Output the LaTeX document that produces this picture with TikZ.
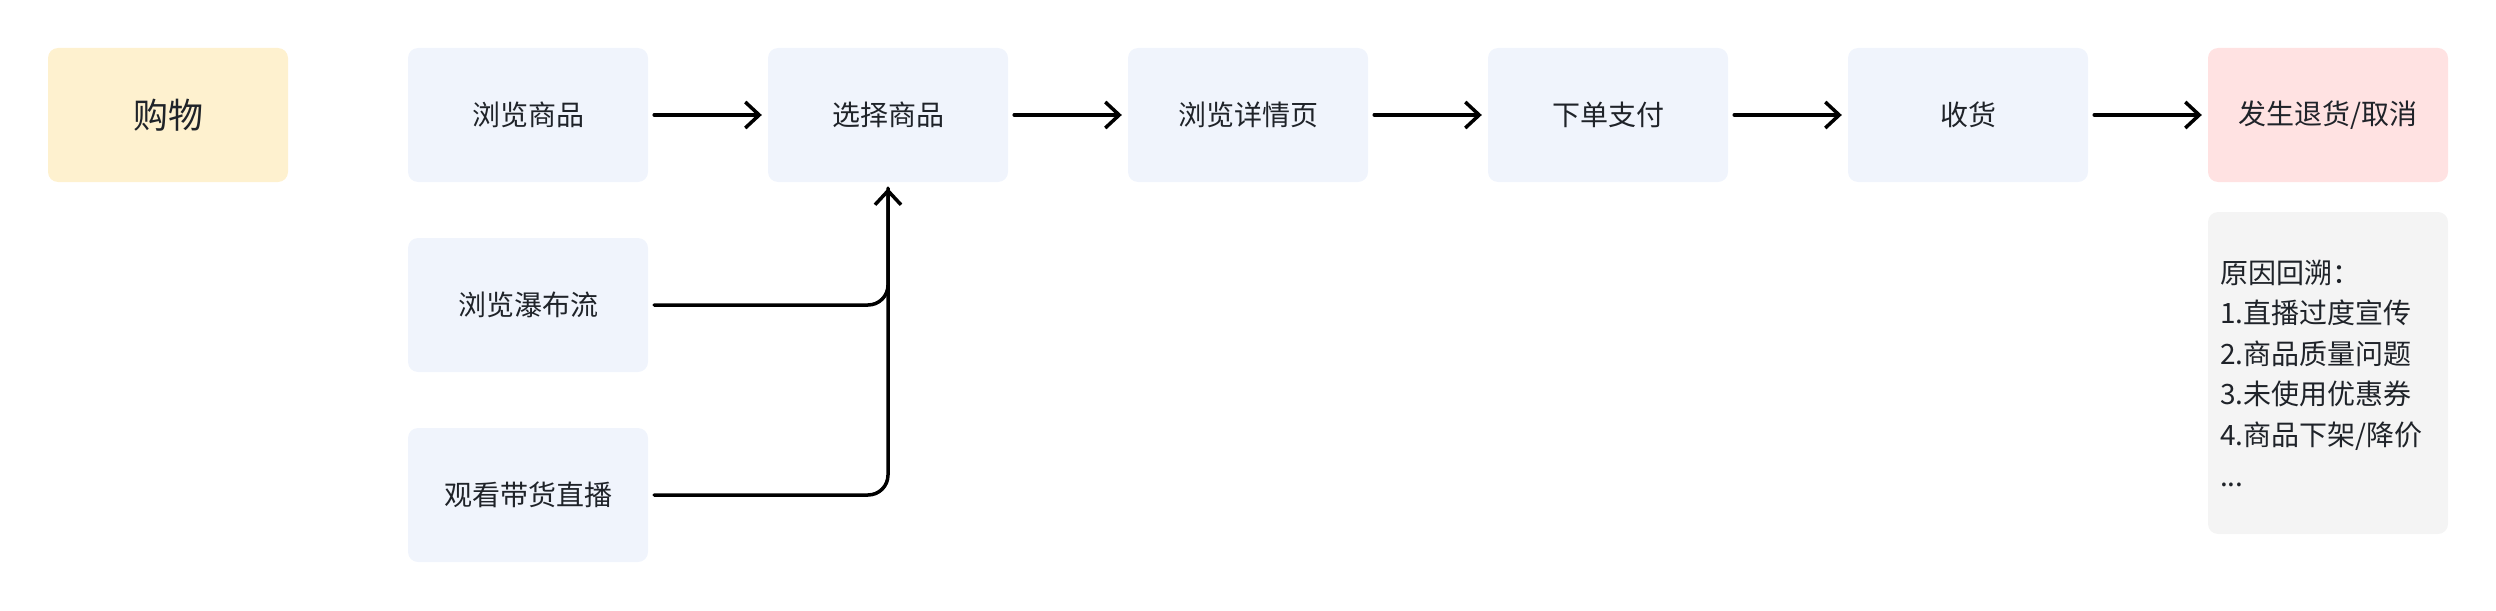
\documentclass[tikz,border=0pt]{standalone}
\usepackage{fontspec}
\setmainfont{Noto Sans CJK SC}
\usetikzlibrary{arrows.meta}
\definecolor{txt}{HTML}{1F2329}
\definecolor{yel}{HTML}{FEF1CF}
\definecolor{blu}{HTML}{F0F4FC}
\definecolor{pnk}{HTML}{FFE2E2}
\definecolor{gry}{HTML}{F4F4F4}
\tikzset{
  box/.style={rectangle, rounded corners=10pt, minimum width=240pt, minimum height=134pt, inner sep=0pt, draw=none, text=txt, font=\fontsize{28}{34}\selectfont},
  bbox/.style={box, fill=blu},
  flow/.style={line width=3.5pt, line cap=round, -{Straight Barb[length=14pt,width=26pt,line width=3.5pt]}},
  plain/.style={line width=3.5pt, line cap=round},
}
\begin{document}
\begin{tikzpicture}[x=1pt,y=-1pt]
\useasboundingbox (0,0) rectangle (2496,610);
\node[box, fill=yel, font=\fontsize{35}{40}\selectfont] (shop) at (168,115) {购物};
\node[bbox] (b1) at (528,115) {浏览商品};
\node[bbox] (b2) at (528,305) {浏览瀑布流};
\node[bbox] (b3) at (528,495) {观看带货直播};
\node[bbox] (s1) at (888,115) {选择商品};
\node[bbox] (s2) at (1248,115) {浏览详情页};
\node[bbox] (s3) at (1608,115) {下单支付};
\node[bbox] (s4) at (1968,115) {收货};
\node[box, fill=pnk] (s5) at (2328,115) {发生退货/取消};
\node[box, fill=gry, minimum height=322pt] (why) at (2328,373) {};
\node[anchor=west, align=left, inner sep=0pt, text=txt, font=\fontsize{28}{40.6}\selectfont] (whytxt) at ([xshift=12pt]why.west) {原因回溯：\\1.直播过度宣传\\2.商品质量问题\\3.未使用优惠券\\4.商品下架/降价\\...};
\draw[flow, shorten <=6pt, shorten >=6pt] (b1) -- (s1);
\draw[flow, shorten <=6pt, shorten >=6pt] (s1) -- (s2);
\draw[flow, shorten <=6pt, shorten >=6pt] (s2) -- (s3);
\draw[flow, shorten <=6pt, shorten >=6pt] (s3) -- (s4);
\draw[flow, shorten <=6pt, shorten >=6pt] (s4) -- (s5);
\coordinate (tipS) at ([yshift=-6pt]s1.south);
\draw[plain, rounded corners=20pt] ([xshift=6pt]b2.east) -| (tipS);
\draw[flow, rounded corners=20pt] ([xshift=6pt]b3.east) -| (tipS);
\end{tikzpicture}
\end{document}
